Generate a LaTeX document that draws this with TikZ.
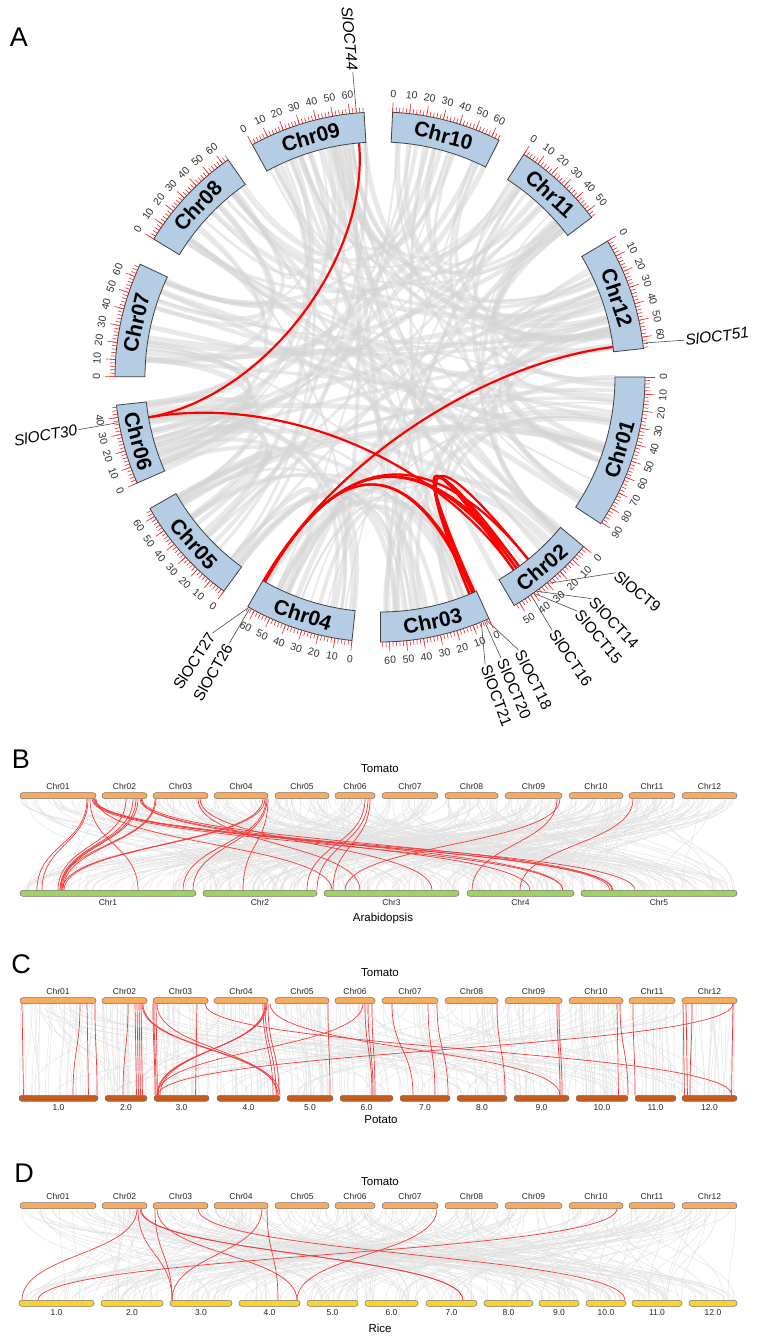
\documentclass[tikz,border=0pt]{standalone}
\usepackage{fontspec}
\setmainfont{Liberation Sans}
\usepackage{xcolor}
\usetikzlibrary{positioning}
\definecolor{chrblue}{RGB}{180,205,228}
\definecolor{tickred}{RGB}{240,40,40}
\definecolor{linkgray}{RGB}{212,212,212}
\definecolor{linegray}{RGB}{226,226,226}
\definecolor{lineRed}{RGB}{242,60,60}
\definecolor{tomorange}{RGB}{248,170,95}
\definecolor{aragreen}{RGB}{160,210,95}
\definecolor{potbrown}{RGB}{196,90,30}
\definecolor{riceyellow}{RGB}{250,210,50}
\begin{document}
\begin{tikzpicture}[x=1pt, y=1pt,
  panel/.style={font=\fontsize{27}{27}\selectfont, inner sep=0pt},
  chrbox/.style={draw=black!75, fill=chrblue, line width=0.8pt},
  tickmark/.style={draw=tickred, line width=0.6pt},
  ticklab/.style={font=\fontsize{10.5}{10.5}\selectfont, text=black!80, inner sep=0pt},
  chrlab/.style={font=\fontsize{21}{21}\selectfont\bfseries, inner sep=0pt},
  geneup/.style={font=\fontsize{15.5}{15.5}\selectfont, inner sep=1.5pt},
  geneit/.style={font=\fontsize{15.5}{15.5}\selectfont\itshape, inner sep=1.5pt},
  geneline/.style={draw=black!70, line width=0.6pt},
  clink/.style={draw=linkgray, opacity=0.5},
  redlink/.style={draw=red, line width=2.2pt},
  chrbar/.style={draw=black!55, rounded corners=2.8pt, minimum height=6pt, inner sep=0pt, line width=0.5pt},
  tombar/.style={chrbar, fill=tomorange},
  arabar/.style={chrbar, fill=aragreen},
  potbar/.style={chrbar, fill=potbrown},
  ricebar/.style={chrbar, fill=riceyellow},
  barlab/.style={font=\fontsize{8.5}{8.5}\selectfont, text=black!85, inner sep=0pt},
  species/.style={font=\fontsize{11.5}{11.5}\selectfont, inner sep=0pt},
  gline/.style={draw=linegray, line width=0.45pt},
  rline/.style={draw=lineRed, line width=0.7pt}]
\useasboundingbox (0,0) rectangle (757,1339);
\def\chrst{{0,-39.79,-65.74,-96.07,-126.09,-156.41,-180.07,-211.36,-241.21,-272.73,-302.87,-329.16}}
\def\chrdeg{{33.62,19.78,24.16,23.85,24.15,17.49,25.12,23.68,25.35,23.97,20.12,24.68}}
\def\tomL{{20,102,153,214,275,335,382,445,505,569,629,682}}
\def\tomR{{96,147,208,268,329,375,438,498,562,623,675,737}}
\def\araL{{20,203,324,467,581}}
\def\araR{{196,317,459,574,737}}
\def\potL{{19,105,154,217,287,340,400,457,514,576,635,682}}
\def\potR{{98,147,209,280,333,393,450,507,569,628,676,737}}
\def\riceL{{19,101,170,239,307,365,426,484,539,586,632,689}}
\def\riceR{{94,163,232,300,358,418,477,533,579,626,682,737}}
% ---------------- panel letters ----------------
\node[panel] (pA) at (19,1301.5) {A};
\node[panel] (pB) at (21,580) {B};
\node[panel] (pC) at (21,375) {C};
\node[panel] (pD) at (24,165.5) {D};
% ---------------- A: circos ----------------
\begin{scope}[shift={(380,962)}]
\pgfmathsetseed{17}
\foreach \i in {1,...,160}{
  \pgfmathrandominteger{\ca}{0}{11}
  \pgfmathrandominteger{\cb}{0}{11}
  \pgfmathsetmacro\ta{\chrst[\ca]-\chrdeg[\ca]*rnd}
  \pgfmathsetmacro\tb{\chrst[\cb]-\chrdeg[\cb]*rnd}
  \pgfmathsetmacro\lw{1.5+4*rnd}
  \draw[clink, line width=\lw pt] (\ta:235) .. controls (\ta:100) and (\tb:100) .. (\tb:235);
}
% gene labels, left half
\foreach \g/\tg/\tl/\sty in {44/95.11/95.1/geneit, 30/-170.1/-170.1/geneit, 27/-119.75/-123.2/geneup, 26/-119.38/-119.5/geneup}{
  \coordinate (k\g) at (\tg:235);
  \coordinate (p\g) at (\tg:266);
  \pgfmathsetmacro\rot{\tl+180}
  \node[\sty, anchor=east, rotate=\rot] (g\g) at (\tl:306) {SlOCT\g};
  \draw[geneline] (p\g) -- (g\g.east);
}
% gene labels, right half
\foreach \g/\tg/\tl/\sty in {51/7.34/6.9/geneit, 18/-66.3/-63.1/geneup, 20/-66.85/-66.7/geneup, 21/-67.59/-69.9/geneup, 9/-50.9/-39.8/geneup, 14/-53.7/-46.4/geneup, 15/-54.5/-49.9/geneup, 16/-55.3/-55.8/geneup}{
  \coordinate (k\g) at (\tg:235);
  \coordinate (p\g) at (\tg:266);
  \node[\sty, anchor=west, rotate=\tl] (g\g) at (\tl:306) {SlOCT\g};
  \draw[geneline] (p\g) -- (g\g.west);
}
% duplicated pairs
\foreach \ga/\gb/\ta/\tb/\rc in {44/30/95.11/-170.1/118, 30/16/-170.1/-55.3/100, 51/27/7.34/-119.75/100,
  26/9/-119.38/-50.9/80, 26/14/-119.38/-53.7/80, 26/15/-119.38/-54.5/80, 26/18/-119.38/-66.3/82, 26/20/-119.38/-66.85/82,
  18/16/-66.3/-55.3/74, 20/15/-66.85/-54.5/74, 21/14/-67.59/-53.7/78, 21/9/-67.59/-50.9/78}{
  \draw[redlink] (k\ga) .. controls (\ta:\rc) and (\tb:\rc) .. (k\gb);
}
% chromosomes with scales
\foreach \nm/\st/\len/\tmax/\lmax in {Chr01/0/90.86/90/90, Chr02/-39.79/53.47/52/50, Chr03/-65.74/65.30/64/60,
  Chr04/-96.07/64.46/64/60, Chr05/-126.09/65.27/64/60, Chr06/-156.41/47.26/46/40, Chr07/-180.07/67.88/66/60,
  Chr08/-211.36/64.00/64/60, Chr09/-241.21/68.51/68/60, Chr10/-272.73/64.79/64/60, Chr11/-302.87/54.38/54/50,
  Chr12/-329.16/66.69/66/60}{
  \pgfmathsetmacro\en{\st-0.37*\len}
  \draw[chrbox] (\st:235) arc[start angle=\st, end angle=\en, radius=235] -- (\en:265)
    arc[start angle=\en, end angle=\st, radius=265] -- cycle;
  \foreach \pos in {0,2,...,\tmax}{
    \pgfmathsetmacro\ang{\st-0.37*\pos}
    \draw[tickmark] (\ang:265) -- (\ang:270);
  }
  \foreach \pos in {0,10,...,\lmax}{
    \pgfmathsetmacro\ang{\st-0.37*\pos}
    \pgfmathsetmacro\rot{ifthenelse(sin(\ang)<0.01,\ang+90,\ang-90)}
    \draw[tickmark] (\ang:265) -- (\ang:275);
    \node[ticklab, rotate=\rot] (\nm-\pos) at (\ang:283.5) {\pos};
  }
  \pgfmathsetmacro\cang{\st-0.185*\len}
  \pgfmathsetmacro\rot{ifthenelse(sin(\cang)<0,\cang+90,\cang-90)}
  \node[chrlab, rotate=\rot] (\nm) at (\cang:250) {\nm};
}
\end{scope}
% ---------------- B: tomato vs Arabidopsis ----------------
\pgfmathsetseed{5}
\foreach \i in {1,...,320}{
  \pgfmathrandominteger{\ka}{0}{11}
  \pgfmathrandominteger{\kb}{0}{4}
  \pgfmathsetmacro\xa{\tomL[\ka]+(\tomR[\ka]-\tomL[\ka])*rnd}
  \pgfmathsetmacro\xb{\araL[\kb]+(\araR[\kb]-\araL[\kb])*rnd}
  \draw[gline] (\xa,540.3) .. controls (\xa,494.5) and (\xb,494.5) .. (\xb,448.7);
}
\foreach \xa/\xb in {87/37, 88/42, 90/138, 93/610, 94/613, 95/635, 96/332, 92/563, 126/58, 133/60, 136/61, 138/62,
  140/563, 141/530, 142/612, 155/60, 156/63, 198/360, 200/432, 263/62, 265/64, 266/183, 267/193, 268/243,
  365/307, 368/317, 370/333, 557/472, 560/345, 633/520}{
  \draw[rline] (\xa,540.3) .. controls (\xa,494.5) and (\xb,494.5) .. (\xb,448.7);
}
% ---------------- C: tomato vs potato ----------------
\pgfmathsetseed{9}
\foreach \i in {1,...,320}{
  \pgfmathrandominteger{\ka}{0}{11}
  \pgfmathtruncatemacro\kb{ifthenelse(rnd<0.7,\ka,int(11.99*rnd))}
  \pgfmathsetmacro\fa{rnd}
  \pgfmathsetmacro\fb{ifthenelse(\kb==\ka,min(max(\fa+0.12*rand,0),1),rnd)}
  \pgfmathsetmacro\xa{\tomL[\ka]+(\tomR[\ka]-\tomL[\ka])*\fa}
  \pgfmathsetmacro\xb{\potL[\kb]+(\potR[\kb]-\potL[\kb])*\fb}
  \draw[gline] (\xa,335.3) .. controls (\xa,289.5) and (\xb,289.5) .. (\xb,243.7);
}
\foreach \xa/\xb in {22/23.5, 80/73, 87/88.5, 95/97, 128/123, 135/136.5, 137/138.5, 139/140.5, 141/142.5, 142/278, 143/280,
  153/155, 154/156, 156/157.5, 157/277, 197/195.5, 267/157, 266/158, 265/160, 263/273, 265/276, 268/279, 328/330,
  365/372, 368/373, 372/375, 363/157, 270/560, 205/732, 733/158, 392/413, 428/435, 437/448, 497/505, 557/560,
  559/562, 617/618.5, 620/628, 633/635, 683/684.5, 686/687.5, 692/690, 733/731.5}{
  \draw[rline] (\xa,335.3) .. controls (\xa,289.5) and (\xb,289.5) .. (\xb,243.7);
}
% ---------------- D: tomato vs rice ----------------
\pgfmathsetseed{23}
\foreach \i in {1,...,260}{
  \pgfmathrandominteger{\ka}{0}{11}
  \pgfmathrandominteger{\kb}{0}{11}
  \pgfmathsetmacro\xa{\tomL[\ka]+(\tomR[\ka]-\tomL[\ka])*rnd}
  \pgfmathsetmacro\xb{\riceL[\kb]+(\riceR[\kb]-\riceL[\kb])*rnd}
  \draw[gline] (\xa,130.3) .. controls (\xa,84.5) and (\xb,84.5) .. (\xb,38.7);
}
\foreach \xa/\xb in {137/22, 138/172, 155/172, 157/297, 262/172, 267/278, 140/463, 141/463, 198/625, 617/38, 437/297}{
  \draw[rline] (\xa,130.3) .. controls (\xa,84.5) and (\xb,84.5) .. (\xb,38.7);
}
% ---------------- chromosome bars ----------------
\foreach \pn/\py in {B/543.3, C/338.3, D/133.3}{
  \foreach \nm/\xa/\xb in {Chr01/20/96, Chr02/102/147, Chr03/153/208, Chr04/214/268, Chr05/275/329, Chr06/335/375,
    Chr07/382/438, Chr08/445/498, Chr09/505/562, Chr10/569/623, Chr11/629/675, Chr12/682/737}{
    \pgfmathsetmacro\w{\xb-\xa}
    \pgfmathsetmacro\xc{(\xa+\xb)/2}
    \node[tombar, minimum width=\w pt] (\pn\nm) at (\xc,\py) {};
    \node[barlab, above=3pt of \pn\nm] (\pn\nm-lab) {\nm};
  }
}
\foreach \nm/\xa/\xb in {Chr1/20/196, Chr2/203/317, Chr3/324/459, Chr4/467/574, Chr5/581/737}{
  \pgfmathsetmacro\w{\xb-\xa}
  \pgfmathsetmacro\xc{(\xa+\xb)/2}
  \node[arabar, minimum width=\w pt] (ara\nm) at (\xc,445.7) {};
  \node[barlab, below=2.5pt of ara\nm] (ara\nm-lab) {\nm};
}
\foreach \i/\xa/\xb in {1/19/98, 2/105/147, 3/154/209, 4/217/280, 5/287/333, 6/340/393, 7/400/450, 8/457/507,
  9/514/569, 10/576/628, 11/635/676, 12/682/737}{
  \pgfmathsetmacro\w{\xb-\xa}
  \pgfmathsetmacro\xc{(\xa+\xb)/2}
  \node[potbar, minimum width=\w pt] (pot\i) at (\xc,240.7) {};
  \node[barlab, below=2.5pt of pot\i] (pot\i-lab) {\i.0};
}
\foreach \i/\xa/\xb in {1/19/94, 2/101/163, 3/170/232, 4/239/300, 5/307/358, 6/365/418, 7/426/477, 8/484/533,
  9/539/579, 10/586/626, 11/632/682, 12/689/737}{
  \pgfmathsetmacro\w{\xb-\xa}
  \pgfmathsetmacro\xc{(\xa+\xb)/2}
  \node[ricebar, minimum width=\w pt] (rice\i) at (\xc,35.7) {};
  \node[barlab, below=2.5pt of rice\i] (rice\i-lab) {\i.0};
}
% ---------------- species names ----------------
\node[species] (tomB) at (380,570.7) {Tomato};
\node[species] (araB) at (383,420.7) {Arabidopsis};
\node[species] (tomC) at (380,366.3) {Tomato};
\node[species] (potC) at (381,219) {Potato};
\node[species] (tomD) at (380,157.3) {Tomato};
\node[species] (riceD) at (380,10.7) {Rice};
\end{tikzpicture}
\end{document}
